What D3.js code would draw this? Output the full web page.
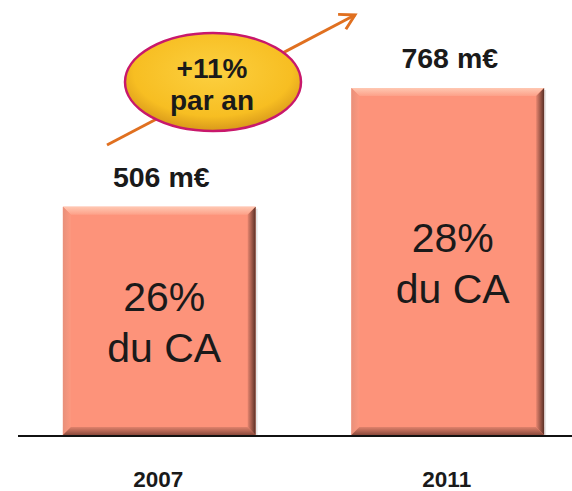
<!DOCTYPE html>
<html><head><meta charset="utf-8">
<script src="https://cdn.jsdelivr.net/npm/d3@7"></script>
<style>body{margin:0;background:#fff}svg{display:block}</style>
</head><body><svg width="572" height="491"></svg>
<script>
const categories = ["2007", "2011"];
const values = [506, 768];
const valueLabels = ["506 m€", "768 m€"];
const shareLabels = [["26%", "du CA"], ["28%", "du CA"]];
const growthLabel = ["+11%", "par an"];

const svg = d3.select("svg");
const baseY = 436;
const FONT = "Liberation Sans, Arial, sans-serif";
const x = d3.scaleBand().domain(categories).range([5.2, 601.8]).paddingInner(0.332).paddingOuter(0.2);
const y = d3.scaleLinear().domain([0, 768]).range([baseY, 88]);

const defs = svg.append("defs");
const eg = defs.append("radialGradient").attr("id", "eg").attr("cx", "50%").attr("cy", "40%").attr("r", "60%");
eg.append("stop").attr("offset", "0%").attr("stop-color", "#FCD040");
eg.append("stop").attr("offset", "75%").attr("stop-color", "#F7BE22");
eg.append("stop").attr("offset", "100%").attr("stop-color", "#D8981A");
function lg(id, x1, y1, x2, y2, c1, c2) {
  const l = defs.append("linearGradient").attr("id", id).attr("x1", x1).attr("y1", y1).attr("x2", x2).attr("y2", y2);
  l.append("stop").attr("offset", "0%").attr("stop-color", c1);
  l.append("stop").attr("offset", "100%").attr("stop-color", c2);
}
lg("bvR", "0", "0", "1", "0", "#E88670", "#5A3026");
lg("bvB", "0", "0", "0", "1", "#E0826C", "#8A4A3C");
lg("bvT", "0", "0", "0", "1", "#FFC8B2", "#FDA088");
lg("bvL", "0", "0", "1", "0", "#E8907A", "#FD987F");
defs.append("marker").attr("id", "ah").attr("viewBox", "0 0 10 10").attr("refX", 8).attr("refY", 5)
  .attr("markerWidth", 7).attr("markerHeight", 7).attr("orient", "auto")
  .append("path").attr("d", "M1,1 L8,5 L1,9").attr("fill", "none").attr("stroke", "#E07020").attr("stroke-width", 1.4);

const bw = x.bandwidth();
const bev = 8;
const g = svg.append("g");
categories.forEach((c, i) => {
  const x0 = x(c), x1 = x0 + bw, y0 = y(values[i]), y1 = baseY - 1;
  g.append("rect").attr("x", x0 + 2).attr("y", y0 + 2).attr("width", bw).attr("height", y1 - y0 - 2).attr("fill", "#000").attr("opacity", 0.1);
  g.append("rect").attr("x", x0).attr("y", y0).attr("width", bw).attr("height", y1 - y0).attr("fill", "#FD937A");
  g.append("polygon").attr("points", [[x0,y0],[x1,y0],[x1-bev,y0+bev],[x0+bev,y0+bev]].join(" ")).attr("fill", "url(#bvT)");
  g.append("polygon").attr("points", [[x0,y0],[x0+bev,y0+bev],[x0+bev,y1-bev],[x0,y1]].join(" ")).attr("fill", "url(#bvL)");
  g.append("polygon").attr("points", [[x0,y1],[x1,y1],[x1-bev,y1-bev],[x0+bev,y1-bev]].join(" ")).attr("fill", "url(#bvB)");
  g.append("polygon").attr("points", [[x1,y0],[x1,y1],[x1-bev,y1-bev],[x1-bev,y0+bev]].join(" ")).attr("fill", "url(#bvR)");
  const cx = x0 + bw / 2 + 5, cy = (y0 + y1) / 2;
  g.append("text").attr("x", cx).attr("y", cy - 10).attr("text-anchor", "middle")
    .attr("font-family", FONT).attr("font-size", 41).attr("fill", "#1a1a1a").text(shareLabels[i][0]);
  g.append("text").attr("x", cx).attr("y", cy + 41).attr("text-anchor", "middle")
    .attr("font-family", FONT).attr("font-size", 41).attr("fill", "#1a1a1a").text(shareLabels[i][1]);
  g.append("text").attr("x", x0 + bw / 2 + 2).attr("y", y0 - 20).attr("text-anchor", "middle")
    .attr("font-family", FONT).attr("font-weight", "bold").attr("font-size", 28.5).attr("fill", "#1a1a1a").text(valueLabels[i]);
  g.append("text").attr("x", x0 + bw / 2 - 1).attr("y", 487).attr("text-anchor", "middle")
    .attr("font-family", FONT).attr("font-weight", "bold").attr("font-size", 22.5).attr("fill", "#1a1a1a").text(c);
});

svg.append("line").attr("x1", 18).attr("x2", 572).attr("y1", baseY).attr("y2", baseY).attr("stroke", "#111").attr("stroke-width", 2);

svg.append("line").attr("x1", 107).attr("y1", 145).attr("x2", 355).attr("y2", 15)
  .attr("stroke", "#E07020").attr("stroke-width", 3).attr("marker-end", "url(#ah)");
svg.append("ellipse").attr("cx", 213).attr("cy", 82).attr("rx", 88).attr("ry", 49)
  .attr("fill", "url(#eg)").attr("stroke", "#C8186C").attr("stroke-width", 2.5);
svg.append("text").attr("x", 212).attr("y", 78).attr("text-anchor", "middle")
  .attr("font-family", FONT).attr("font-weight", "bold").attr("font-size", 28).attr("fill", "#1a1a1a").text(growthLabel[0]);
svg.append("text").attr("x", 212).attr("y", 110).attr("text-anchor", "middle")
  .attr("font-family", FONT).attr("font-weight", "bold").attr("font-size", 28).attr("fill", "#1a1a1a").text(growthLabel[1]);
</script></body></html>
